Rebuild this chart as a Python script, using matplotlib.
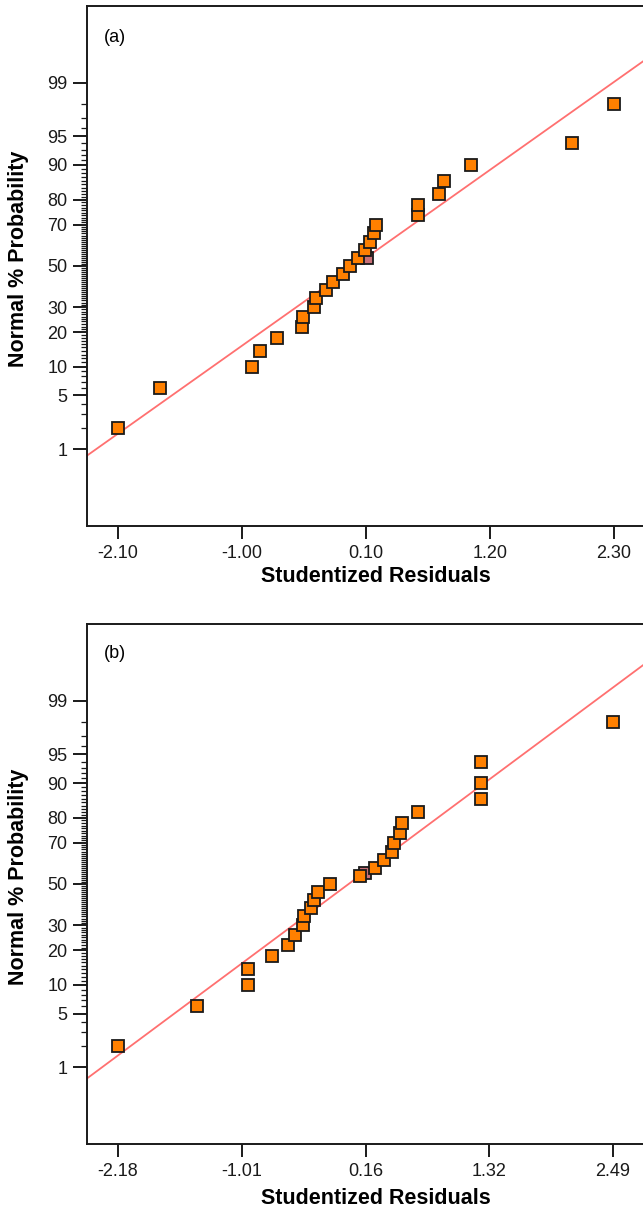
import numpy as np
import matplotlib
matplotlib.use("Agg")
import matplotlib.pyplot as plt
from matplotlib.ticker import FixedLocator, FixedFormatter, NullFormatter
from statistics import NormalDist

plt.rcParams['font.family'] = ['Liberation Sans', 'DejaVu Sans']

# ---------------- data ----------------
prob_pct = [2, 6, 10, 14, 18, 22, 26, 30, 34, 38, 42, 46, 50,
            54, 58, 62, 66, 70, 74, 78, 82, 86, 90, 94, 98]

resid_a = [-2.10, -1.73, -0.91, -0.84, -0.69, -0.47, -0.46, -0.36, -0.34,
           -0.25, -0.19, -0.10, -0.04, 0.03, 0.09, 0.14, 0.17, 0.19,
           0.56, 0.56, 0.75, 0.79, 1.03, 1.93, 2.30]
resid_b = [-2.18, -1.44, -0.95, -0.95, -0.73, -0.58, -0.51, -0.44, -0.43,
           -0.36, -0.33, -0.29, -0.18, 0.10, 0.24, 0.33, 0.40, 0.42,
           0.48, 0.50, 0.65, 1.24, 1.24, 1.24, 2.49]

pink_a = (0.11, 54.0)
pink_b = (0.15, 55.5)

line_a = (0.0, 1.015)   # intercept, slope in normal-score units
line_b = (0.005, 1.0)

xticks_a = [-2.10, -1.00, 0.10, 1.20, 2.30]
xticks_b = [-2.18, -1.01, 0.16, 1.32, 2.49]
ytick_major = [1, 5, 10, 20, 30, 50, 70, 80, 90, 95, 99]

# ---------------- probability scale ----------------
_nd = NormalDist()

def _fwd(p):
    p = np.clip(np.asarray(p, dtype=float), 1e-6, 100 - 1e-6)
    return np.vectorize(lambda v: _nd.inv_cdf(v / 100.0))(p)

def _inv(z):
    z = np.asarray(z, dtype=float)
    return np.vectorize(lambda v: 100.0 * _nd.cdf(v))(z)

W, H = 643, 1212
fig = plt.figure(figsize=(W / 100, H / 100), dpi=100)

ZLIM = 3.3
ylims = (100 * _nd.cdf(-ZLIM), 100 * _nd.cdf(ZLIM))

def make_panel(top_px, bottom_px, xlim, xticks, resid, pink, line):
    left_px, right_px = 86.7, 645.0
    ax = fig.add_axes([left_px / W, 1 - bottom_px / H,
                       (right_px - left_px) / W, (bottom_px - top_px) / H])
    ax.set_yscale('function', functions=(_fwd, _inv))
    ax.set_ylim(*ylims)
    ax.set_xlim(*xlim)

    # fit line
    xs = np.array(xlim)
    ax.plot(xs, _inv(line[0] + line[1] * xs), color='#ff7070', lw=1.3,
            zorder=2, clip_on=True)
    # highlighted point
    ax.plot([pink[0]], [pink[1]], 's', ms=8, mfc='#c97078', mec='#1a1a1a',
            mew=1.3, zorder=3)
    # data
    ax.plot(resid, prob_pct, 's', ms=8, mfc='#ff8000', mec='#1a1a1a',
            mew=1.3, zorder=4, linestyle='none')

    for s in ['left', 'top', 'bottom', 'right']:
        ax.spines[s].set_linewidth(1.4)
        ax.spines[s].set_color('#1a1a1a')

    ax.xaxis.set_major_locator(FixedLocator(xticks))
    ax.xaxis.set_major_formatter(FixedFormatter([f"{v:.2f}" for v in xticks]))
    ax.yaxis.set_major_locator(FixedLocator(ytick_major))
    ax.yaxis.set_major_formatter(FixedFormatter([str(v) for v in ytick_major]))
    minors = [v for v in range(2, 99) if v not in ytick_major]
    ax.yaxis.set_minor_locator(FixedLocator(minors))
    ax.yaxis.set_minor_formatter(NullFormatter())

    ax.tick_params(axis='x', which='major', direction='out', length=9,
                   width=1.4, labelsize=13, pad=5, colors='#1a1a1a')
    ax.tick_params(axis='y', which='major', direction='out', length=10,
                   width=1.4, labelsize=13, pad=4, colors='#1a1a1a')
    ax.tick_params(axis='y', which='minor', direction='out', length=4.3,
                   width=0.9, colors='#1a1a1a')
    return ax

ax_a = make_panel(6, 525.7, (-2.377, 2.576), xticks_a, resid_a, pink_a, line_a)
ax_b = make_panel(624, 1144, (-2.476, 2.791), xticks_b, resid_b, pink_b, line_b)

fig.text(104 / W, 1 - 37 / H, '(a)', fontsize=13, ha='left', va='center')
fig.text(104 / W, 1 - 654 / H, '(b)', fontsize=13, ha='left', va='center')

for yc in (259, 876.5):
    fig.text(18.5 / W, 1 - yc / H, 'Normal % Probability', rotation=90,
             fontsize=15.5, fontweight='bold', ha='center', va='center')
fig.text(375.6 / W, 1 - 576 / H, 'Studentized Residuals', fontsize=15.5,
         fontweight='bold', ha='center', va='center')
fig.text(375.6 / W, 1 - 1199 / H, 'Studentized Residuals', fontsize=15.5,
         fontweight='bold', ha='center', va='center')

fig.savefig('out.png', dpi=100)
